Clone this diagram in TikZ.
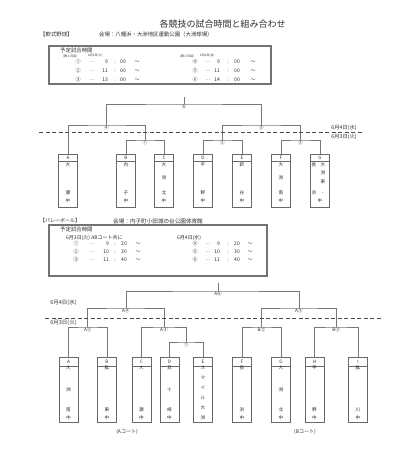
\documentclass[tikz,border=0pt]{standalone}
\usepackage{fontspec}
\setmainfont{Noto Sans CJK JP}
\usetikzlibrary{positioning}
\definecolor{lngray}{RGB}{120,120,120}
\definecolor{boxgray}{RGB}{105,105,105}
\definecolor{dashgray}{RGB}{75,75,75}
\definecolor{framegray}{RGB}{115,115,115}
\definecolor{txtgray}{RGB}{45,45,45}
\newcommand{\fs}[1]{\fontsize{#1}{#1}\selectfont}

\tikzset{
  team/.style={draw=boxgray, line width=0.5pt, minimum width=19pt, anchor=north, inner sep=0pt},
  bracket/.style={draw=lngray, line width=0.55pt},
  daydash/.style={dashgray, line width=1pt, dash pattern=on 4pt off 2.5pt},
  timeframe/.style={draw=framegray, line width=1.6pt},
  ch/.style={font=\fs{4.6}, inner sep=0pt, text=txtgray},
  tt/.style={font=\fs{5}, inner sep=0pt, text=txtgray},
  mlabel/.style={font=\fs{4.6}, inner sep=0.5pt, anchor=north, text=txtgray},
  hd/.style={font=\fs{5.4}, anchor=west, inner sep=0pt, text=txtgray}
}

\begin{document}
\begin{tikzpicture}[x=1pt,y=-1pt]
  \useasboundingbox (0,0) rectangle (400,455);
  % Title
  \node[font=\fs{9}, inner sep=0pt, text=txtgray] (title) at (222.5,24) {各競技の試合時間と組み合わせ};

  % ---------- Baseball ----------
  \node[hd] (ybhead) at (40,34) {【軟式野球】};
  \node[hd] (ybsite) at (99,34) {会場：八幡浜・大洲地区運動公園（大洲球場）};
  \draw[timeframe] (49,46) rectangle (271,84);
  \node[hd] (ybplan) at (60,50) {予定試合時間};
  \node[hd, font=\fs{3}] (ybday1) at (61,56) {〔第１日目〕};
  \node[hd, font=\fs{3}] (ybdate1) at (88,56) {6月3日(火)};
  \node[hd, font=\fs{3}] (ybday2) at (178,56) {〔第２日目〕};
  \node[hd, font=\fs{3}] (ybdate2) at (200,56) {6月4日(水)};
  \foreach \n/\h/\yy in {①/9/62, ②/11/71, ③/13/80}{
    \node[tt] at (78,\yy) {\n};
    \node[tt] at (92,\yy) {…};
    \node[tt, anchor=east] at (108,\yy) {\h};
    \node[tt] at (115,\yy) {:};
    \node[tt] at (123,\yy) {00};
    \node[tt] at (137,\yy) {～};
  }
  \foreach \n/\h/\yy in {④/9/62, ⑤/11/71, ⑥/14/80}{
    \node[tt] at (195,\yy) {\n};
    \node[tt] at (208,\yy) {…};
    \node[tt, anchor=east] at (220,\yy) {\h};
    \node[tt] at (228,\yy) {:};
    \node[tt] at (237,\yy) {00};
    \node[tt] at (253,\yy) {～};
  }

  % teams
  \foreach \nm/\x in {A/68, B/126, C/164, D/203, E/242, F/281, G/320}{
    \node[team, minimum height=53pt] (y\nm) at (\x,154) {};
    \node[ch] at (\x,157.5) {\nm};
    \draw[boxgray, line width=0.5pt] ([yshift=-7pt]y\nm.north west) -- ([yshift=-7pt]y\nm.north east);
  }
  \foreach \x/\a/\b/\c/\d in {68/大//瀬/中, 126/内//子/中, 164/大/洲/北/中, 203/平//野/中, 242/新//谷/中, 281/大/洲/南/中}{
    \node[ch] at (\x,165) {\a};
    \node[ch] at (\x,178) {\b};
    \node[ch] at (\x,193) {\c};
    \node[ch] at (\x,201) {\d};
  }
  \node[ch] at (314,165) {長};
  \node[ch] at (323,165) {大};
  \node[ch] at (323,173) {洲};
  \node[ch] at (323,182) {東};
  \node[ch] at (314,193) {浜};
  \node[ch] at (323,193) {・};
  \node[ch] at (320,201) {中};

  % bracket
  \coordinate (y1) at (145,140);
  \coordinate (y2) at (222.5,140);
  \coordinate (y3) at (300.5,140);
  \coordinate (y4) at (106.5,125);
  \coordinate (y5) at (261.5,125);
  \coordinate (y6) at (184,104);
  \coordinate (y6top) at (184,97);
  \draw[bracket] (yB.north) |- (y1) -| (yC.north);
  \draw[bracket] (yD.north) |- (y2) -| (yE.north);
  \draw[bracket] (yF.north) |- (y3) -| (yG.north);
  \draw[bracket] (yA.north) |- (y4) -| (y1);
  \draw[bracket] (y2) |- (y5) -| (y3);
  \draw[bracket] (y4) |- (y6) -| (y5);
  \draw[bracket] (y6) -- (y6top);
  \node[mlabel] at (y1) {①};
  \node[mlabel] at (y2) {②};
  \node[mlabel] at (y3) {③};
  \node[mlabel] at (y4) {④};
  \node[mlabel] at (y5) {⑤};
  \node[mlabel] at (y6) {⑥};
  % day line
  \draw[daydash] (39,132) -- (362,132);
  \node[ch, font=\fs{5.3}] at (344,127.5) {6月4日(水)};
  \node[ch, font=\fs{5.3}] at (344,136.5) {6月3日(火)};

  % ---------- Volleyball ----------
  \node[hd, font=\fs{5}] (vbhead) at (40,221) {【バレーボール】};
  \node[hd, font=\fs{5.6}] (vbsite) at (113,221) {会場：内子町小田城の台公園体育館};
  \draw[timeframe] (49,225) rectangle (267,276);
  \node[hd] (vbplan) at (60,229.5) {予定試合時間};
  \node[hd, font=\fs{5}] (vbdate1) at (66,238) {6月3日(火)\ ABコート共に};
  \node[hd, font=\fs{5}] (vbdate2) at (177,238) {6月4日(水)};
  \foreach \n/\h/\m/\yy in {①/9/20/244, ②/10/30/252, ③/11/40/260}{
    \node[tt] at (76,\yy) {\n};
    \node[tt] at (92,\yy) {…};
    \node[tt, anchor=east] at (109,\yy) {\h};
    \node[tt] at (115,\yy) {:};
    \node[tt] at (124,\yy) {\m};
    \node[tt] at (138,\yy) {～};
  }
  \foreach \n/\h/\m/\yy in {④/9/20/244, ⑤/10/30/252, ⑥/11/40/260}{
    \node[tt] at (195,\yy) {\n};
    \node[tt] at (208,\yy) {…};
    \node[tt, anchor=east] at (220,\yy) {\h};
    \node[tt] at (228,\yy) {:};
    \node[tt] at (237,\yy) {\m};
    \node[tt] at (250,\yy) {～};
  }

  % teams
  \foreach \nm/\x in {A/68.5, B/107, C/141.5, D/169.5, E/203, F/242, G/281, H/314.5, I/358}{
    \node[team, minimum height=65pt] (v\nm) at (\x,357) {};
    \node[ch] at (\x,361.5) {\nm};
    \draw[boxgray, line width=0.5pt] ([yshift=-9pt]v\nm.north west) -- ([yshift=-9pt]v\nm.north east);
  }
  \foreach \x/\a/\b/\c/\d in {68.5/大/洲/南/中, 107/肱//東/中, 141.5/大//瀬/中, 169.5/五/十/崎/中, 242/長//浜/中, 281/大/洲/北/中, 314.5/平//野/中, 358/肱//川/中}{
    \node[ch] at (\x,368) {\a};
    \node[ch] at (\x,390) {\b};
    \node[ch] at (\x,410) {\c};
    \node[ch] at (\x,418) {\d};
  }
  \foreach \c/\yy in {ス/368, マ/378, イ/388, ル/397.5, 大/408, 洲/418}{
    \node[ch] at (203,\yy) {\c};
  }

  % bracket
  \coordinate (va2) at (87.75,327);
  \coordinate (v1) at (186.25,342);
  \coordinate (va3) at (163.9,327);
  \coordinate (va4) at (125.8,308);
  \coordinate (vb2) at (261.5,327);
  \coordinate (vb3) at (336.25,327);
  \coordinate (va5) at (298.9,308);
  \coordinate (va6) at (218,291);
  \coordinate (va6top) at (218,283);
  \draw[bracket] (vA.north) |- (va2) -| (vB.north);
  \draw[bracket] (vD.north) |- (v1) -| (vE.north);
  \draw[bracket] (vC.north) |- (va3) -| (v1);
  \draw[bracket] (va2) |- (va4) -| (va3);
  \draw[bracket] (vF.north) |- (vb2) -| (vG.north);
  \draw[bracket] (vH.north) |- (vb3) -| (vI.north);
  \draw[bracket] (vb2) |- (va5) -| (vb3);
  \draw[bracket] (va4) |- (va6) -| (va5);
  \draw[bracket] (va6) -- (va6top);
  \node[mlabel] at (v1) {①};
  \node[mlabel] at (va2) {A②};
  \node[mlabel] at (va3) {A③};
  \node[mlabel] at (va4) {A④};
  \node[mlabel] at (vb2) {B②};
  \node[mlabel] at (vb3) {B③};
  \node[mlabel] at (va5) {A⑤};
  \node[mlabel] at (va6) {A⑥};
  % day line
  \draw[daydash] (45,318) -- (382,318);
  \node[ch, font=\fs{5.5}] at (63.5,303) {6月4日(水)};
  \node[ch, font=\fs{5.5}] at (63.5,322.5) {6月3日(火)};
  % courts
  \node[ch, font=\fs{5}] (acourt) at (127,432) {(Aコート)};
  \node[ch, font=\fs{5}] (bcourt) at (305,432) {(Bコート)};
\end{tikzpicture}
\end{document}
